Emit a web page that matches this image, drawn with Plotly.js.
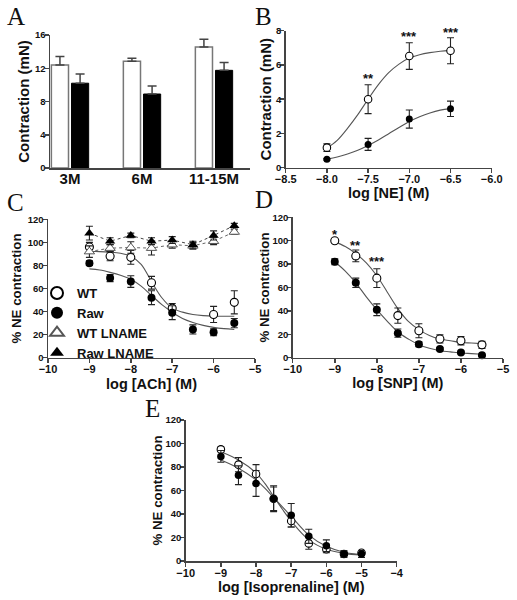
<!DOCTYPE html>
<html>
<head>
<meta charset="utf-8">
<script src="https://cdn.plot.ly/plotly-3.0.1.min.js"></script>
<style>html,body{margin:0;padding:0;background:#fff;}#chart{width:517px;height:600px;}</style>
</head>
<body>
<div id="chart"></div>
<script>
// ---------- Panel A ----------
const ageGroups = ['3M', '6M', '11-15M'];
const aWT = [12.4, 12.85, 14.55];
const aWTErr = [1.0, 0.35, 0.95];
const aRaw = [10.2, 8.9, 11.75];
const aRawErr = [1.1, 0.95, 0.95];

// ---------- Panel B ----------
const bLog = [-8, -7.5, -7, -6.5];
const bWT = [1.17, 4.0, 6.52, 6.83];
const bWTErr = [0.22, 0.84, 0.78, 0.76];
const bRaw = [0.49, 1.36, 2.84, 3.44];
const bRawErr = [0.05, 0.35, 0.53, 0.45];
const bFitX = [-8, -7.875, -7.75, -7.625, -7.5, -7.375, -7.25, -7.125, -7, -6.875, -6.75, -6.625, -6.5];
const bWTFit = [1.15, 1.6, 2.3, 3.1, 4.0, 4.85, 5.55, 6.05, 6.4, 6.6, 6.72, 6.8, 6.85];
const bRawFit = [0.5, 0.62, 0.8, 1.02, 1.3, 1.62, 1.98, 2.35, 2.7, 2.98, 3.2, 3.36, 3.45];
const bStars = ['**', '***', '***'];
const bStarX = [-7.5, -7, -6.5];
const bStarY = [5.2, 7.64, 7.88];

// ---------- Panel C ----------
const cLog = [-9, -8.5, -8, -7.5, -7, -6.5, -6, -5.5];
const cWT = [96, 88, 87, 65, 43, null, 37.5, 48];
const cWTErr = [4, 4, 6, 5.5, 4, null, 7, 10];
const cRaw = [82, 69, 66, 52, 39, 24.5, 22, 30];
const cRawErr = [2, 3, 5, 6, 6, 4, 3, 4];
const cWTL = [92, 95, 95.5, 95, 98, 97, 101, 109];
const cWTLErr = [5, 3, 5, 6, 3, 3, 3, 2];
const cRawL = [108, 101, 106, 101, 102, 98, 106, 114.5];
const cRawLErr = [6, 3, 2, 3, 3, 3, 4, 2];
const cFitX = [-9, -8.75, -8.5, -8.25, -8, -7.75, -7.5, -7.25, -7, -6.75, -6.5, -6.25, -6, -5.75, -5.5];
const cWTFit = [92, 92, 91.5, 90.5, 88, 81, 66, 52, 43, 39.5, 37.5, 36.5, 36, 36, 36];
const cRawFit = [77, 76, 74, 71.5, 68, 62, 54, 46, 39.5, 34, 30.5, 28, 26.3, 25.2, 24.5];

// ---------- Panel D ----------
const dLog = [-9, -8.5, -8, -7.5, -7, -6.5, -6, -5.5];
const dWT = [100, 87, 68, 36, 23, 16, 14.5, 11];
const dWTErr = [1, 5, 8, 6.5, 6, 3.5, 3.5, 3];
const dRaw = [82, 64, 41, 21, 11.5, 7.5, 4.5, 2];
const dRawErr = [2.5, 4, 5, 3.5, 2, 1, 1, 1];
const dFitX = [-9, -8.75, -8.5, -8.25, -8, -7.75, -7.5, -7.25, -7, -6.75, -6.5, -6.25, -6, -5.75, -5.5];
const dWTFit = [99, 95, 89, 81, 70, 56, 42, 31, 24, 19, 16, 14.5, 13, 12.5, 12];
const dRawFit = [82, 74, 64, 52, 41, 31, 22, 16, 11, 8, 6, 5, 4, 3.5, 3];
const dStars = ['*', '**', '***'];
const dStarX = [-9, -8.5, -8];
const dStarY = [105.7, 96.3, 81.8];

// ---------- Panel E ----------
const eLog = [-9, -8.5, -8, -7.5, -7, -6.5, -6, -5.5, -5];
const eWT = [95, 82, 74, 53, 34, 15, 10, 6, 7];
const eWTErr = [2, 6, 8, 10, 5, 5, 3, 2, 2];
const eRaw = [89, 73, 66, 53, 39, 21, 13, 6, 6];
const eRawErr = [5, 8, 11, 11, 10, 6, 5, 3, 3];
const eFitX = [-9, -8.5, -8, -7.75, -7.5, -7.25, -7, -6.5, -6, -5.5, -5];
const eWTFit = [93, 86, 75, 66, 55, 44, 34, 18, 10, 6.5, 5];
const eRawFit = [86, 79, 69, 62, 54, 46, 38, 22, 12.5, 7.5, 5.5];

const F = 'Arial, "Liberation Sans", Helvetica, sans-serif';
const SERIF = '"Liberation Serif", "Times New Roman", serif';
const INK = '#222';

function errs(arr, w) {
  return {type: 'data', array: arr, visible: true, color: INK, thickness: 1.1, width: w || 3.5};
}
function fit(x, y, xa, ya) {
  return {x: x, y: y, xaxis: xa, yaxis: ya, mode: 'lines', type: 'scatter', showlegend: false,
          hoverinfo: 'skip', line: {color: '#555', width: 1.1, shape: 'spline', smoothing: 1}};
}
function pts(x, y, e, xa, ya, open, size, extra) {
  const t = {x: x, y: y, xaxis: xa, yaxis: ya, mode: 'markers', type: 'scatter', showlegend: false,
    cliponaxis: false, error_y: errs(e),
    marker: {symbol: 'circle', size: size, color: open ? '#fff' : '#000', line: {color: '#000', width: open ? 1.1 : 0}}};
  return Object.assign(t, extra || {});
}

const traces = [
  // A
  {type: 'bar', x: ageGroups, y: aWT, name: 'WT', xaxis: 'x', yaxis: 'y', showlegend: false,
   marker: {color: '#fff', line: {color: '#777', width: 1.5}},
   error_y: {type: 'data', symmetric: false, array: aWTErr, arrayminus: [0, 0, 0], color: '#444', thickness: 1.5, width: 4.5}},
  {type: 'bar', x: ageGroups, y: aRaw, name: 'Raw', xaxis: 'x', yaxis: 'y', showlegend: false,
   marker: {color: '#000', line: {color: '#000', width: 1}},
   error_y: {type: 'data', symmetric: false, array: aRawErr, arrayminus: [0, 0, 0], color: '#444', thickness: 1.5, width: 4.5}},
  // B
  fit(bFitX, bWTFit, 'x2', 'y2'),
  fit(bFitX, bRawFit, 'x2', 'y2'),
  pts(bLog, bRaw, bRawErr, 'x2', 'y2', false, 7),
  pts(bLog, bWT, bWTErr, 'x2', 'y2', true, 7.5),
  // C
  fit(cFitX, cWTFit, 'x3', 'y3'),
  fit(cFitX, cRawFit, 'x3', 'y3'),
  {x: cLog, y: cWTL, xaxis: 'x3', yaxis: 'y3', mode: 'lines', type: 'scatter', showlegend: false, hoverinfo: 'skip',
   line: {color: '#666', width: 1, dash: 'dot'}},
  {x: cLog, y: cRawL, xaxis: 'x3', yaxis: 'y3', mode: 'lines', type: 'scatter', showlegend: false, hoverinfo: 'skip',
   line: {color: '#444', width: 1, dash: 'dot'}},
  pts(cLog, cWT, cWTErr, 'x3', 'y3', true, 8, {name: 'WT', showlegend: true}),
  pts(cLog, cRaw, cRawErr, 'x3', 'y3', false, 8, {name: 'Raw', showlegend: true}),
  pts(cLog, cWTL, cWTLErr, 'x3', 'y3', true, 9, {name: 'WT LNAME', showlegend: true,
      marker: {symbol: 'triangle-up', size: 9, color: '#fff', line: {color: '#555', width: 1}}}),
  pts(cLog, cRawL, cRawLErr, 'x3', 'y3', false, 9, {name: 'Raw LNAME', showlegend: true,
      marker: {symbol: 'triangle-up', size: 9, color: '#000', line: {color: '#000', width: 0}}}),
  // D
  fit(dFitX, dWTFit, 'x4', 'y4'),
  fit(dFitX, dRawFit, 'x4', 'y4'),
  pts(dLog, dRaw, dRawErr, 'x4', 'y4', false, 8),
  pts(dLog, dWT, dWTErr, 'x4', 'y4', true, 8),
  // E
  fit(eFitX, eWTFit, 'x5', 'y5'),
  fit(eFitX, eRawFit, 'x5', 'y5'),
  pts(eLog, eWT, eWTErr, 'x5', 'y5', true, 7.5),
  pts(eLog, eRaw, eRawErr, 'x5', 'y5', false, 7.5)
];

const tickF = {family: F, size: 11, weight: 700, color: '#111'};
const ytickF = {family: F, size: 9.5, weight: 700, color: '#111'};
const titleF = {family: F, size: 15, weight: 700, color: '#111'};
const titleF2 = {family: F, size: 13.3, weight: 700, color: '#111'};
const xtitleF = {family: F, size: 14.5, weight: 700, color: '#111'};
const base = {showline: true, linecolor: '#444', linewidth: 1.5, ticks: 'outside', ticklen: 4,
              tickcolor: '#444', tickwidth: 1.5, showgrid: false, zeroline: false, fixedrange: true};

function xax(dom, anchor, range, dtick, title, standoff, fmt) {
  return Object.assign({}, base, {domain: dom, anchor: anchor, range: range, dtick: dtick, tick0: 0,
    ticklabelstandoff: -3,
    tickfont: tickF, tickformat: fmt || '', title: {text: title, font: xtitleF, standoff: standoff}});
}
function yax(dom, anchor, range, dtick, title, standoff, tf) {
  return Object.assign({}, base, {domain: dom, anchor: anchor, range: range, dtick: dtick, tick0: 0,
    ticklabelstandoff: -3,
    tickfont: ytickF, title: {text: title, font: tf || titleF, standoff: standoff}});
}

const W = 517, H = 600;
function px(v) { return v / W; }
function py(v) { return 1 - v / H; }

const layout = {
  width: W, height: H,
  margin: {l: 0, r: 0, t: 0, b: 0},
  paper_bgcolor: '#fff', plot_bgcolor: '#fff',
  font: {family: F, color: '#111'},
  barmode: 'group', bargap: 0.44, bargroupgap: 0.15,
  showlegend: true,
  legend: {x: px(37), y: py(278), xanchor: 'left', yanchor: 'top', bgcolor: 'rgba(0,0,0,0)',
           font: {family: F, size: 13, weight: 700, color: '#111'}, itemsizing: 'constant', tracegroupgap: 0},
  xaxis: Object.assign({}, base, {domain: [px(50), px(250)], anchor: 'y', type: 'category', range: [-0.278, 2.5],
          ticks: '', ticklabelstandoff: -4, tickfont: {family: F, size: 15, weight: 700, color: '#111'}}),
  yaxis: yax([py(168), py(35)], 'x', [0, 16], 4, 'Contraction (mN)', 2),
  xaxis2: xax([px(285.7), px(491.7)], 'y2', [-8.5, -6.0], 0.5, 'log [NE] (M)', 2, '.1f'),
  yaxis2: yax([py(167.7), py(30.7)], 'x2', [0, 8], 2, 'Contraction (mN)', 0),
  xaxis3: xax([px(48), px(255)], 'y3', [-10, -5], 1, 'log [ACh] (M)', 4),
  yaxis3: yax([py(357.7), py(219.3)], 'x3', [0, 120], 20, '% NE contraction', 3, titleF2),
  xaxis4: xax([px(292.7), px(503)], 'y4', [-10, -5], 1, 'log [SNP] (M)', 0),
  yaxis4: yax([py(357.7), py(217.3)], 'x4', [0, 120], 20, '% NE contraction', 0, titleF2),
  xaxis5: xax([px(185.7), px(396.7)], 'y5', [-10, -4], 1, 'log [Isoprenaline] (M)', 1),
  yaxis5: yax([py(561), py(420)], 'x5', [0, 120], 20, '% NE contraction', 0, titleF2),
  annotations: []
};

const letters = [['A', 16, 17], ['B', 263, 17], ['C', 15, 202], ['D', 264, 200], ['E', 152, 408]];
letters.forEach(function (l) {
  layout.annotations.push({text: l[0], xref: 'paper', yref: 'paper', x: px(l[1]), y: py(l[2]),
    xanchor: 'center', yanchor: 'middle', showarrow: false, font: {family: SERIF, size: 25, color: '#111'}});
});
bStars.forEach(function (s, i) {
  layout.annotations.push({text: s, xref: 'x2', yref: 'y2', x: bStarX[i], y: bStarY[i], showarrow: false,
    xanchor: 'center', yanchor: 'middle', font: {family: F, size: 13, weight: 700, color: '#111'}});
});
dStars.forEach(function (s, i) {
  layout.annotations.push({text: s, xref: 'x4', yref: 'y4', x: dStarX[i], y: dStarY[i], showarrow: false,
    xanchor: 'center', yanchor: 'middle', font: {family: F, size: 13, weight: 700, color: '#111'}});
});

Plotly.newPlot('chart', traces, layout, {staticPlot: true, displayModeBar: false});
</script>
</body>
</html>
